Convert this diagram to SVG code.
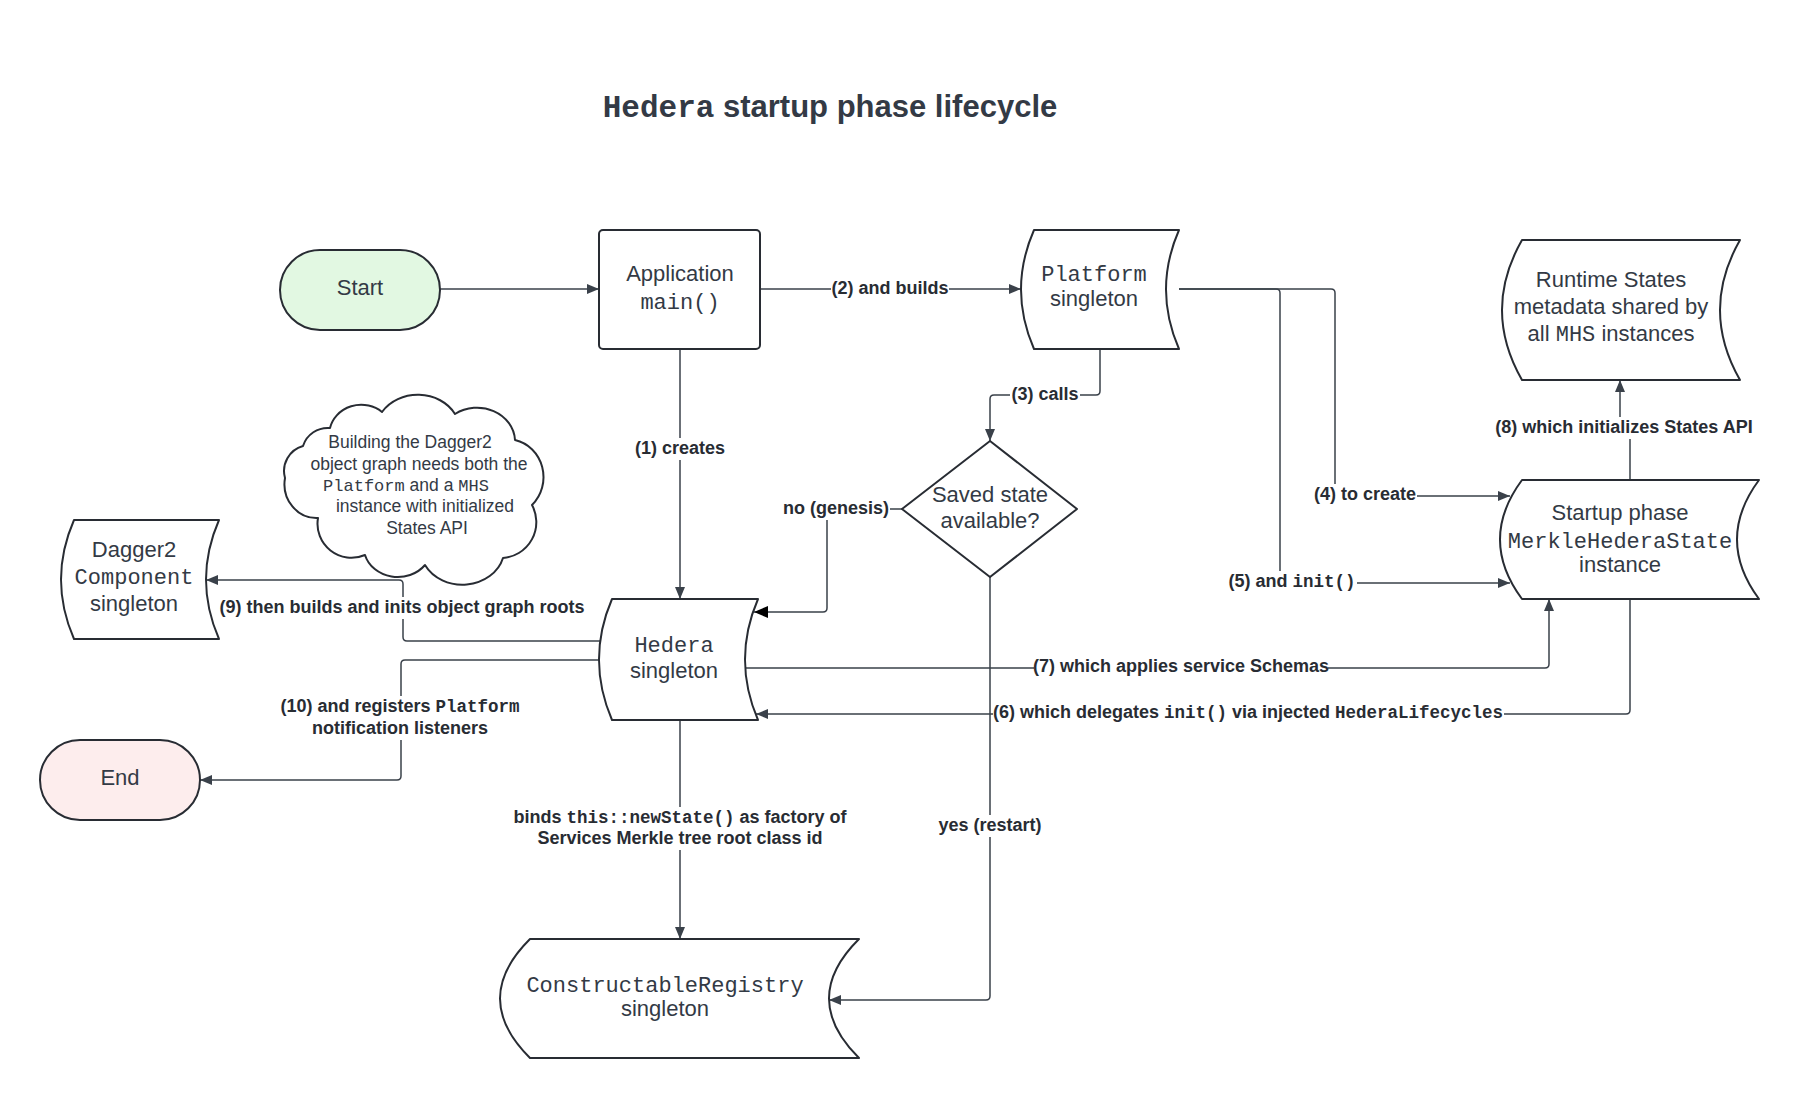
<svg xmlns="http://www.w3.org/2000/svg" width="1800" height="1100" viewBox="0 0 1800 1100">
<style>
.shape{fill:#fff;stroke:#282c33;stroke-width:2;stroke-linejoin:round}
.nt{font-family:"Liberation Sans",Arial,sans-serif;font-size:22px;fill:#333a45;text-anchor:middle}
.mono{font-family:"Liberation Mono","Courier New",monospace}
.ct{font-family:"Liberation Sans",Arial,sans-serif;font-size:17.5px;fill:#333a45;text-anchor:middle}
.ct .mono{font-size:17px}
.conn{fill:none;stroke:#3a414a;stroke-width:1.5}
.lbg{fill:#fff;stroke:none}
.lbl{font-family:"Liberation Sans",Arial,sans-serif;font-size:18px;font-weight:bold;fill:#282c33;text-anchor:middle}
.lbl .mono{font-size:17.5px}
.title{font-family:"Liberation Sans",Arial,sans-serif;font-size:31px;font-weight:bold;fill:#333a45;text-anchor:middle}
</style>
<defs>
<marker id="arr" viewBox="0 0 12 10" refX="12" refY="5" markerWidth="12" markerHeight="10" markerUnits="userSpaceOnUse" orient="auto">
<path d="M0,0 L12,5 L0,10 Z" fill="#3a414a"/>
</marker>
<marker id="arrB" viewBox="0 0 14 12" refX="14" refY="6" markerWidth="14" markerHeight="12" markerUnits="userSpaceOnUse" orient="auto">
<path d="M0,0 L14,6 L0,12 Z" fill="#000"/>
</marker>
</defs>
<rect width="1800" height="1100" fill="#fff"/>
<text class="title" x="830" y="117"><tspan class="mono">Hedera</tspan> startup phase lifecycle</text>

<g id="connectors">
<path class="conn" marker-end="url(#arr)" d="M440,289 H599"/>
<path class="conn" marker-end="url(#arr)" d="M760,289 H1021"/>
<path class="conn" marker-end="url(#arr)" d="M1100,349 V391 Q1100,395 1096,395 H994 Q990,395 990,399 V441"/>
<path class="conn" marker-end="url(#arr)" d="M680,349 V599"/>
<path class="conn" marker-end="url(#arrB)" d="M902,509 H831 Q827,509 827,513 V608 Q827,612 823,612 H754"/>
<path class="conn" marker-end="url(#arr)" d="M990,577 V996 Q990,1000 986,1000 H829"/>
<path class="conn" marker-end="url(#arr)" d="M1179,289 H1331 Q1335,289 1335,293 V492 Q1335,496 1339,496 H1510"/>
<path class="conn" marker-end="url(#arr)" d="M1179,289 H1276 Q1280,289 1280,293 V579 Q1280,583 1284,583 H1510"/>
<path class="conn" marker-end="url(#arr)" d="M1630,480 V428 H1620 V380"/>
<path class="conn" marker-end="url(#arr)" d="M745,668 H1545 Q1549,668 1549,664 V599"/>
<path class="conn" marker-end="url(#arr)" d="M1630,599 V710 Q1630,714 1626,714 H756"/>
<path class="conn" marker-end="url(#arr)" d="M600,641 H407 Q403,641 403,637 V584 Q403,580 399,580 H206"/>
<path class="conn" marker-end="url(#arr)" d="M600,660 H405 Q401,660 401,664 V776 Q401,780 397,780 H200"/>
<path class="conn" marker-end="url(#arr)" d="M680,720 V939"/>

<rect class="lbg" x="634" y="438" width="92" height="22"/>
<text class="lbl" x="680" y="454">(1) creates</text>
<rect class="lbg" x="831" y="278" width="118" height="22"/>
<text class="lbl" x="890" y="294">(2) and builds</text>
<rect class="lbg" x="1010" y="384" width="70" height="22"/>
<text class="lbl" x="1045" y="400">(3) calls</text>
<rect class="lbg" x="782" y="498" width="108" height="22"/>
<text class="lbl" x="836" y="514">no (genesis)</text>
<rect class="lbg" x="937" y="815" width="106" height="22"/>
<text class="lbl" x="990" y="831">yes (restart)</text>
<rect class="lbg" x="1313" y="484" width="104" height="22"/>
<text class="lbl" x="1365" y="500">(4) to create</text>
<rect class="lbg" x="1227" y="571" width="130" height="22"/>
<text class="lbl" x="1292" y="587">(5) and <tspan class="mono">init()</tspan></text>
<rect class="lbg" x="1503" y="417" width="242" height="22"/>
<text class="lbl" x="1624" y="433">(8) which initializes States API</text>
<rect class="lbg" x="1034" y="656" width="294" height="22"/>
<text class="lbl" x="1181" y="672">(7) which applies service Schemas</text>
<rect class="lbg" x="993" y="702" width="511" height="22"/>
<text class="lbl" x="1248" y="718">(6) which delegates <tspan class="mono">init()</tspan> via injected <tspan class="mono">HederaLifecycles</tspan></text>
<rect class="lbg" x="219" y="597" width="367" height="22"/>
<text class="lbl" x="402" y="613">(9) then builds and inits object graph roots</text>
<rect class="lbg" x="279" y="696" width="243" height="22"/>
<text class="lbl" x="400" y="712">(10) and registers <tspan class="mono">Platform</tspan></text>
<rect class="lbg" x="311" y="718" width="178" height="22"/>
<text class="lbl" x="400" y="734">notification listeners</text>
<rect class="lbg" x="512" y="807" width="336" height="22"/>
<text class="lbl" x="680" y="823">binds <tspan class="mono">this::newState()</tspan> as factory of</text>
<rect class="lbg" x="536" y="828" width="288" height="22"/>
<text class="lbl" x="680" y="844">Services Merkle tree root class id</text>
</g>

<g id="start">
<rect class="shape" x="280" y="250" width="160" height="80" rx="40" style="fill:#e2f8e2"/>
<text class="nt" x="360" y="295">Start</text>
</g>

<g id="application">
<rect class="shape" x="599" y="230" width="161" height="119" rx="4"/>
<text class="nt" x="680" y="281">Application</text>
<text class="nt mono" x="680" y="309">main()</text>
</g>

<g id="platform">
<path class="shape" d="M1034,230 H1179 Q1153,289.5 1179,349 H1034 Q1008,289.5 1034,230 Z"/>
<text class="nt mono" x="1094" y="281">Platform</text>
<text class="nt" x="1094" y="306">singleton</text>
</g>

<g id="runtime-states">
<path class="shape" d="M1522,240 H1740 Q1700,310 1740,380 H1522 Q1482,310 1522,240 Z"/>
<text class="nt" x="1611" y="287">Runtime States</text>
<text class="nt" x="1611" y="314">metadata shared by</text>
<text class="nt" x="1611" y="341">all <tspan class="mono">MHS</tspan> instances</text>
</g>

<g id="saved-state">
<path class="shape" d="M990,441 L1077,509 L990,577 L902,509 Z"/>
<text class="nt" x="990" y="502">Saved state</text>
<text class="nt" x="990" y="528">available?</text>
</g>

<g id="note-cloud">
<path class="shape" d="M330,428 A32,30 0 0 1 382,412 A42,36 0 0 1 455,414 A38,34 0 0 1 515,440 A36,38 0 0 1 532,505 A36,36 0 0 1 503,558 A42,36 0 0 1 425,565 A34,30 0 0 1 365,555 A34,34 0 0 1 318,518 A32,34 0 0 1 285,478 A26,26 0 0 1 303,446 A26,26 0 0 1 330,428 Z"/>
<text class="ct" x="410" y="448">Building the Dagger2</text>
<text class="ct" x="419" y="470">object graph needs both the</text>
<text class="ct" x="406" y="491"><tspan class="mono">Platform</tspan> and a <tspan class="mono">MHS</tspan></text>
<text class="ct" x="425" y="512">instance with initialized</text>
<text class="ct" x="427" y="534">States API</text>
</g>

<g id="dagger2">
<path class="shape" d="M74,520 H219 Q193,579.5 219,639 H74 Q48,579.5 74,520 Z"/>
<text class="nt" x="134" y="557">Dagger2</text>
<text class="nt mono" x="134" y="584">Component</text>
<text class="nt" x="134" y="611">singleton</text>
</g>

<g id="hedera">
<path class="shape" d="M612,599 H758 Q732,659.5 758,720 H612 Q586,659.5 612,599 Z"/>
<text class="nt mono" x="674" y="652">Hedera</text>
<text class="nt" x="674" y="678">singleton</text>
</g>

<g id="startup-mhs">
<path class="shape" d="M1522,480 H1759 Q1715,539.5 1759,599 H1522 Q1478,539.5 1522,480 Z"/>
<text class="nt" x="1620" y="520">Startup phase</text>
<text class="nt mono" x="1620" y="548">MerkleHederaState</text>
<text class="nt" x="1620" y="572">instance</text>
</g>

<g id="end">
<rect class="shape" x="40" y="740" width="160" height="80" rx="40" style="fill:#fdeded"/>
<text class="nt" x="120" y="785">End</text>
</g>

<g id="constructable-registry">
<path class="shape" d="M530,939 H859 Q799,998.5 859,1058 H530 Q470,998.5 530,939 Z"/>
<text class="nt mono" x="665" y="992">ConstructableRegistry</text>
<text class="nt" x="665" y="1016">singleton</text>
</g>
</svg>
